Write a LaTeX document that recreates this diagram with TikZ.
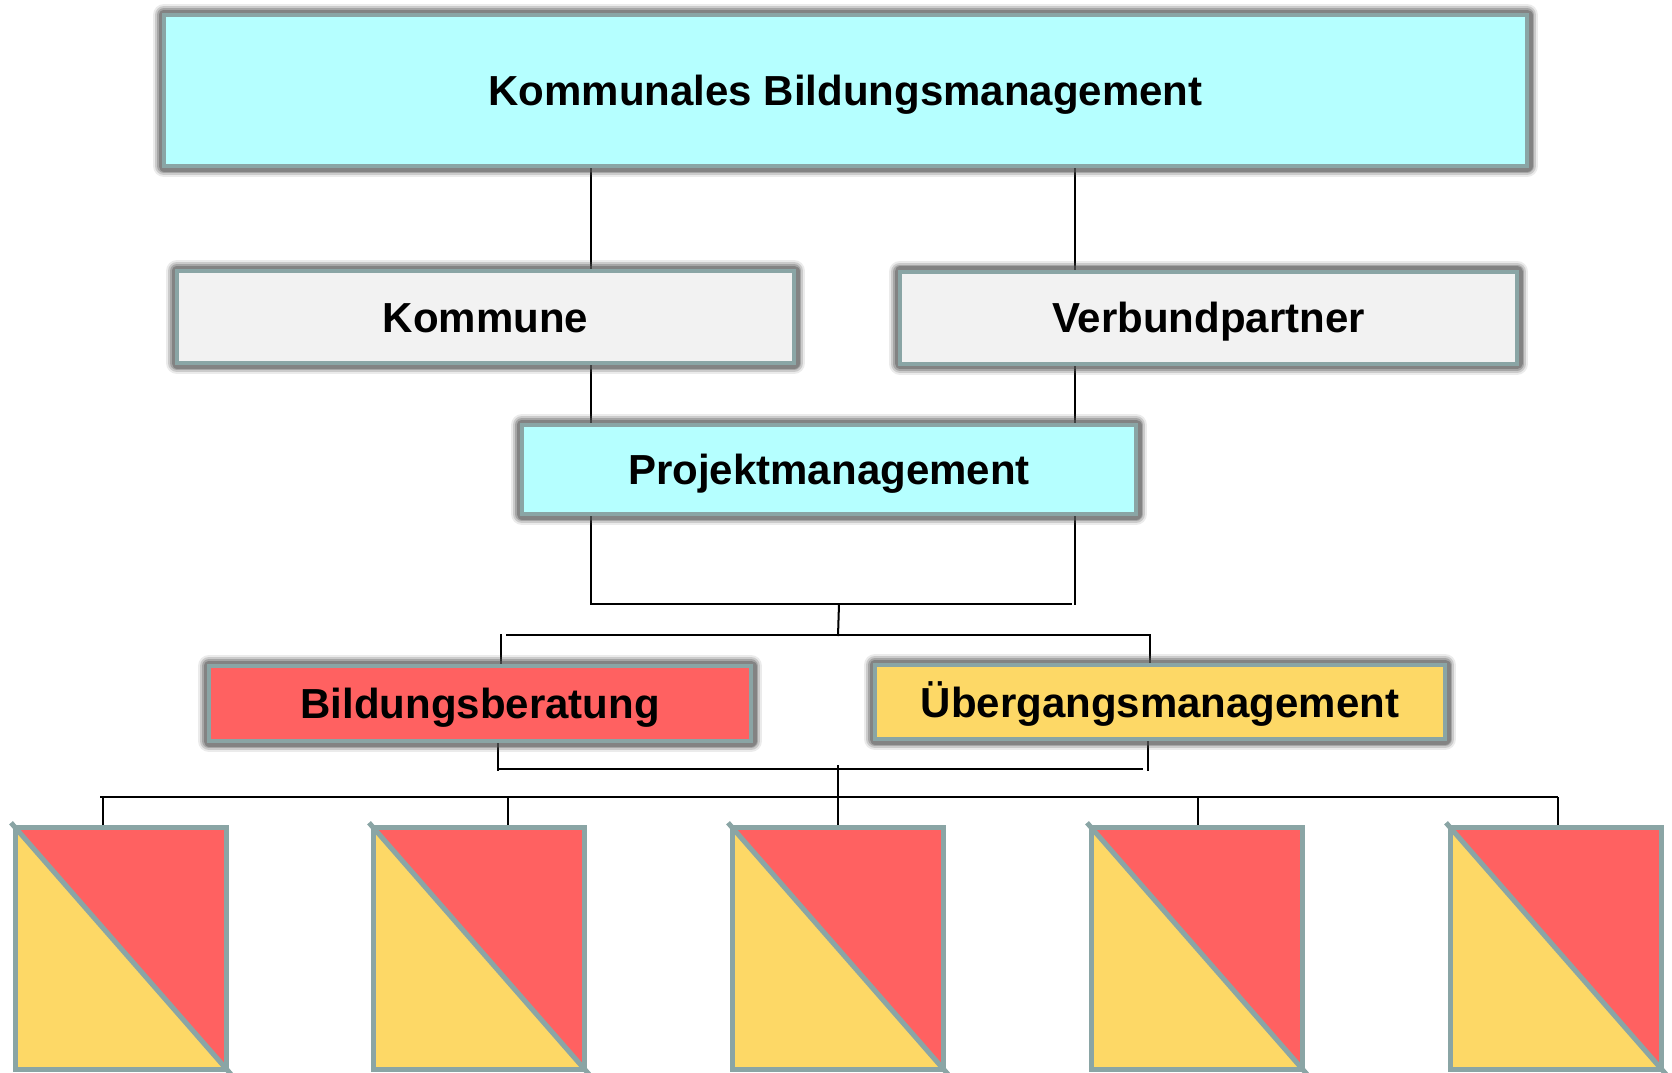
\documentclass[tikz,border=0pt]{standalone}
\usepackage{fontspec}
\setmainfont{Liberation Sans}
\usetikzlibrary{backgrounds}
\definecolor{cyanfill}{HTML}{B5FFFF}
\definecolor{grayfill}{HTML}{F2F2F2}
\definecolor{redfill}{HTML}{FF6161}
\definecolor{yellowfill}{HTML}{FDD866}
\definecolor{bordercol}{HTML}{8AA5A5}
\newcommand\boxfont{\fontsize{21pt}{25pt}\selectfont\bfseries}
\begin{document}
\begin{tikzpicture}[x=0.5pt,y=-0.5pt,
  glowbox/.style={draw=bordercol, line width=2pt, inner sep=0pt, font=\boxfont,
    text height=15pt, text depth=0pt,
    preaction={draw=black!65, draw opacity=.12, line width=11pt, line join=round},
    preaction={draw=black!65, draw opacity=.22, line width=9pt, line join=round},
    preaction={draw=black!65, draw opacity=.32, line width=7pt, line join=round},
    preaction={draw=black!65, draw opacity=.45, line width=5.5pt, line join=round}},
  conn/.style={draw=black, line width=1pt},
  tile/.style={draw=bordercol, line width=2.5pt, inner sep=0pt,
    minimum width=105.5pt, minimum height=121pt,
    path picture={
      \fill[yellowfill] (path picture bounding box.north west) -- (path picture bounding box.south east) -- (path picture bounding box.south west) -- cycle;
      \fill[redfill] (path picture bounding box.north west) -- (path picture bounding box.north east) -- (path picture bounding box.south east) -- cycle;
    }},
  diag/.style={draw=bordercol, line width=2.5pt}
]
\useasboundingbox (0,0) rectangle (1672,1072);

% boxes
\node[glowbox, fill=cyanfill, minimum width=681.5pt, minimum height=75.5pt] (top) at (845.5,90.5) {Kommunales Bildungsmanagement};
\node[glowbox, fill=grayfill, minimum width=308.5pt, minimum height=46pt] (kom) at (485.5,317) {Kommune};
\node[glowbox, fill=grayfill, minimum width=308.5pt, minimum height=46pt] (ver) at (1208.5,317.5) {Verbundpartner};
\node[glowbox, fill=cyanfill, minimum width=307pt, minimum height=44.5pt] (proj) at (829,469.5) {Projektmanagement};
\node[glowbox, fill=redfill, minimum width=271pt, minimum height=37.5pt] (bild) at (480,703.5) {Bildungsberatung};
\node[glowbox, fill=yellowfill, minimum width=285pt, minimum height=37pt] (ueb) at (1160,702) {Übergangsmanagement};

% tiles
\foreach \n/\cx in {1/121,2/479,3/838,4/1197,5/1556}{
  \node[tile] (s\n) at (\cx,948.5) {};
  \draw[diag, shorten <=-1.5pt, shorten >=-1.5pt] (s\n.north west) -- (s\n.south east);
}

% helper coordinates
\coordinate (xl) at (591,0);
\coordinate (xr) at (1075,0);
\coordinate (h1r) at (1072,604);
\coordinate (h1e) at (1075,605);
\coordinate (m1) at (839,604);
\coordinate (m2) at (838,636);
\coordinate (h2l) at (506,635);
\coordinate (xub) at (1150,0);
\coordinate (xbb) at (501,634);
\coordinate (xbl) at (498,0);
\coordinate (h3r) at (1143,769);
\coordinate (xubb) at (1148,771);
\coordinate (c3) at (838,765);
\coordinate (h4l) at (100,797);
\coordinate (h4r) at (1558,797);
\coordinate (d1) at (103,797);
\coordinate (d2) at (508,797);
\coordinate (d4) at (1198,797);
\coordinate (d5) at (1558,797);

\begin{pgfonlayer}{background}
\draw[conn] (top.south -| xl) -- (kom.north -| xl);
\draw[conn] (top.south -| xr) -- (ver.north -| xr);
\draw[conn] (kom.south -| xl) -- (proj.north -| xl);
\draw[conn] (ver.south -| xr) -- (proj.north -| xr);
\draw[conn] (proj.south -| xl) |- (h1r);
\draw[conn] (proj.south -| xr) -- (xr |- h1e);
\draw[conn] (m1) -- (m2);
\draw[conn] (h2l) -| (ueb.north -| xub);
\draw[conn] (xbb) -- (bild.north -| xbb);
\draw[conn] (bild.south -| xbl) -- (xbl |- xubb);
\draw[conn] (xbl |- h3r) -- (h3r);
\draw[conn] (ueb.south -| xubb) -- (xubb);
\draw[conn] (c3) -- (s3.north);
\draw[conn] (h4l) -- (h4r);
\draw[conn] (d1) -- (s1.north -| d1);
\draw[conn] (d2) -- (s2.north -| d2);
\draw[conn] (d4) -- (s4.north -| d4);
\draw[conn] (d5) -- (s5.north -| d5);
\end{pgfonlayer}
\end{tikzpicture}
\end{document}
